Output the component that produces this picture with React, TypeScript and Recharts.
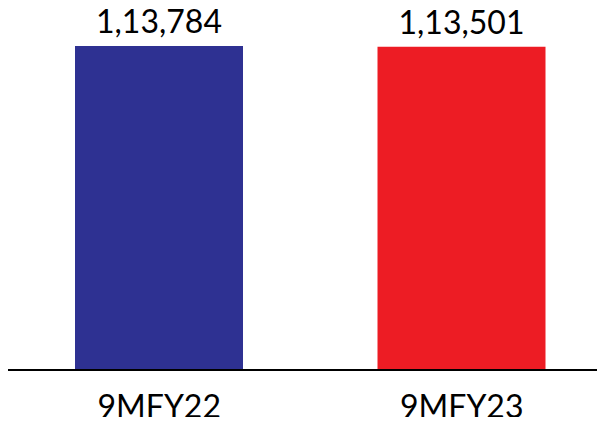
import React from 'react';
import { BarChart, Bar, XAxis, YAxis, LabelList, Cell } from 'recharts';

const periods = ['9MFY22', '9MFY23'];
const volumes = [113784, 113501];
const barColors = ['#2E3192', '#ED1C24'];

const data = periods.map((p, i) => ({ period: p, volume: volumes[i] }));

// Indian digit grouping: 1,13,784
const formatIndian = (v: number) => {
  const s = String(Math.round(v));
  if (s.length <= 3) return s;
  const last3 = s.slice(-3);
  const rest = s.slice(0, -3).replace(/\B(?=(\d{2})+(?!\d))/g, ',');
  return `${rest},${last3}`;
};

const App: React.FC = () => {
  return (
    <div style={{ width: 597, height: 425, overflow: 'hidden', marginTop: -8, marginBottom: -8 }}>
      <BarChart
        width={605}
        height={425}
        data={data}
        margin={{ top: 46, right: 0, bottom: 0, left: 0 }}
      >
        <XAxis
          dataKey="period"
          height={55}
          axisLine={{ stroke: '#000', strokeWidth: 2 }}
          tickLine={false}
          tickMargin={19}
          tick={{ fill: '#000', fontSize: 32, fontFamily: 'Lato' }}
        />
        <YAxis hide domain={[0, 'dataMax']} />
        <Bar dataKey="volume" barSize={168} isAnimationActive={false}>
          {data.map((d, i) => (
            <Cell key={d.period} fill={barColors[i]} />
          ))}
          <LabelList
            dataKey="volume"
            position="top"
            offset={13}
            formatter={(v: any) => formatIndian(Number(v))}
            style={{ fill: '#000', fontSize: 32, fontFamily: 'Lato' }}
          />
        </Bar>
      </BarChart>
    </div>
  );
};

export default App;
